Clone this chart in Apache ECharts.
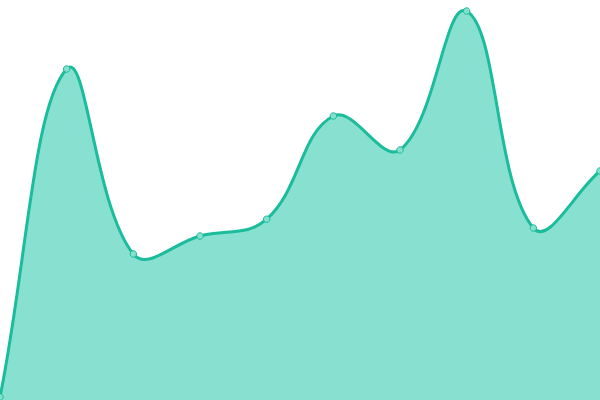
<!DOCTYPE html>
<html>
<head>
<meta charset="utf-8">
<script src="https://cdn.jsdelivr.net/npm/echarts@6/dist/echarts.min.js"></script>
<style>
  html, body { margin: 0; padding: 0; background: #fff; }
  #chart { width: 600px; height: 400px; }
</style>
</head>
<body>
<div id="chart"></div>
<script>
var categories = ['A', 'B', 'C', 'D', 'E', 'F', 'G', 'H', 'I', 'J'];
var values = [0.75, 82.75, 36.5, 41, 45.2, 71, 62.5, 97.25, 43, 57.25];

var lineColor = '#1abc9c';
var areaColor = '#88e0d0';
var tension = 0.4;

// spline with tension: handles along (next - prev), split by segment lengths;
// end points use the neighbour only. Control points are kept inside the plot box.
function smoothPath(pts, box) {
  function clamp(p) {
    return [Math.min(Math.max(p[0], box.x), box.x + box.width),
            Math.min(Math.max(p[1], box.y), box.y + box.height)];
  }
  var cps = pts.map(function(p, i) {
    var prev = pts[i - 1] || p;
    var next = pts[i + 1] || p;
    var d01 = Math.hypot(p[0] - prev[0], p[1] - prev[1]);
    var d12 = Math.hypot(next[0] - p[0], next[1] - p[1]);
    var s01 = d01 / (d01 + d12) || 0;
    var s12 = d12 / (d01 + d12) || 0;
    var fa = tension * s01, fb = tension * s12;
    return {
      prev: clamp([p[0] - fa * (next[0] - prev[0]), p[1] - fa * (next[1] - prev[1])]),
      next: clamp([p[0] + fb * (next[0] - prev[0]), p[1] + fb * (next[1] - prev[1])])
    };
  });
  var d = 'M' + pts[0][0] + ' ' + pts[0][1];
  for (var i = 1; i < pts.length; i++) {
    var a = cps[i - 1].next, b = cps[i].prev, p = pts[i];
    d += ' C' + a[0] + ' ' + a[1] + ' ' + b[0] + ' ' + b[1] + ' ' + p[0] + ' ' + p[1];
  }
  return d;
}

function renderCurve(params, api) {
  var pts = values.map(function(v, i) { return api.coord([i, v]); });
  var line = smoothPath(pts, params.coordSys);
  var baseY = api.coord([0, 0])[1];
  var area = line + ' L' + pts[pts.length - 1][0] + ' ' + baseY + ' L' + pts[0][0] + ' ' + baseY + ' Z';
  return {
    type: 'group',
    children: [
      { type: 'path', shape: { pathData: area }, style: { fill: areaColor, stroke: null } },
      { type: 'path', shape: { pathData: line }, style: { fill: null, stroke: lineColor, lineWidth: 3 } }
    ]
  };
}

var chart = echarts.init(document.getElementById('chart'), null, { renderer: 'svg' });
chart.setOption({
  animation: false,
  grid: { left: 0, right: 0, top: 0, bottom: 0 },
  xAxis: {
    type: 'category',
    data: categories,
    boundaryGap: false,
    show: false
  },
  yAxis: {
    type: 'value',
    min: 0, max: 100,
    show: false
  },
  series: [
    {
      type: 'custom',
      data: [0],
      clip: false,
      renderItem: renderCurve,
      z: 1
    },
    {
      type: 'scatter',
      data: values,
      symbol: 'circle',
      symbolSize: 6.5,
      itemStyle: { color: '#86dfcc', borderColor: lineColor, borderWidth: 1, opacity: 1 },
      z: 2
    }
  ]
});
</script>
</body>
</html>
